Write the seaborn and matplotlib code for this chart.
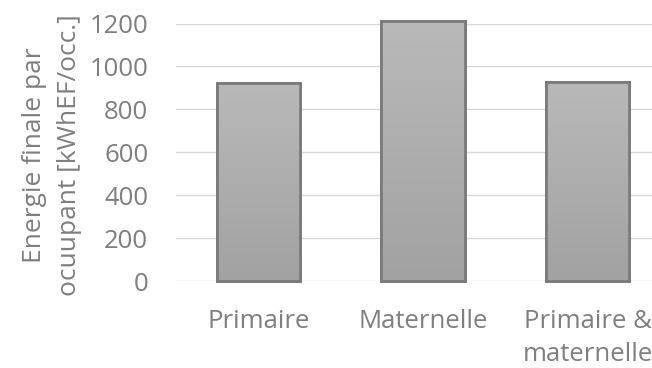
import numpy as np
import pandas as pd
import matplotlib
matplotlib.use("Agg")
import matplotlib.pyplot as plt
import seaborn as sns

# valeurs
categories = ["Primaire", "Maternelle", "Primaire &\nmaternelle"]
energie = [925, 1210, 930]
yticks = [0, 200, 400, 600, 800, 1000, 1200]

df = pd.DataFrame({"cat": categories, "val": energie})

sns.set_style("white")
plt.rcParams["font.family"] = ["Open Sans", "DejaVu Sans"]
grey_txt = "#7f7f7f"

fig = plt.figure(figsize=(6.52, 3.68), dpi=100)
ax = fig.add_axes([0.27, 0.236, 0.73, 0.7])

sns.barplot(data=df, x="cat", y="val", color="#ababab", saturation=1,
            width=0.505, edgecolor="#7b7b7b", linewidth=2, ax=ax, zorder=3)

# degrade vertical dans chaque barre (clair en haut, plus fonce en bas)
grad = np.linspace(0, 1, 64).reshape(-1, 1)
cmap = matplotlib.colors.LinearSegmentedColormap.from_list("g", ["#a2a2a2", "#b9b9b9"])
for p in list(ax.patches):
    p.set_clip_on(False)
    x0, y0 = p.get_x(), p.get_y()
    w, h = p.get_width(), p.get_height()
    im = ax.imshow(grad, cmap=cmap, aspect="auto", origin="lower",
                   extent=[x0, x0 + w, y0, y0 + h], zorder=3.5)
    im.set_clip_path(p)
    edge = plt.Rectangle((x0, y0), w, h, fill=False, edgecolor="#7b7b7b",
                         linewidth=2, zorder=4, clip_on=False)
    ax.add_patch(edge)

ax.set_ylim(0, 1200)
ax.set_xlim(-0.5, 2.39)
ax.set_yticks(yticks)
ax.yaxis.grid(True, color="#d9d9d9", linewidth=1)
ax.set_axisbelow(True)
sns.despine(ax=ax, left=True, bottom=True, right=True, top=True)
ax.tick_params(axis="both", length=0, colors=grey_txt, labelsize=18.5)
ax.tick_params(axis="y", pad=20)
ax.tick_params(axis="x", pad=20)
for t in ax.get_xticklabels():
    t.set_linespacing(1.4)
ax.set_xlabel("")
ax.set_ylabel("Energie finale par\nocuupant [kWhEF/occ.]", color=grey_txt,
              fontsize=19, linespacing=1.5)
ax.yaxis.set_label_coords(-0.198, 0.489)

fig.savefig("out.png", dpi=100)
